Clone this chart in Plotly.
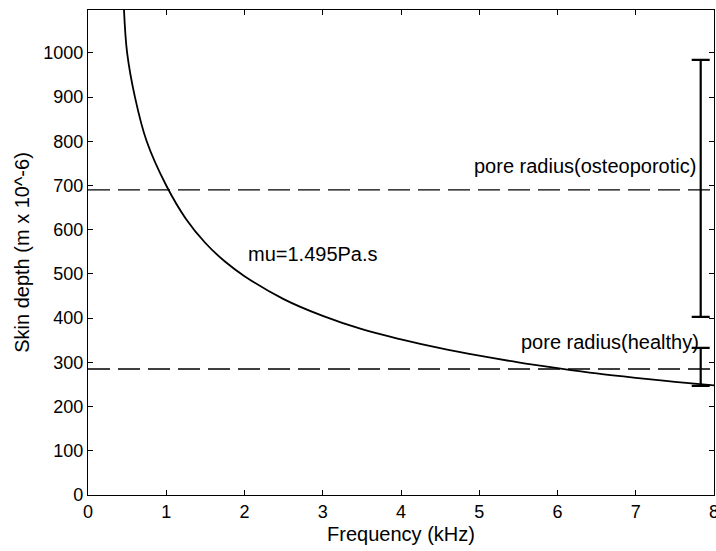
import plotly.graph_objects as go

# skin depth curve
freq = [0.46, 0.5, 0.6, 0.75, 1.0, 1.25, 1.5, 1.75, 2.0, 2.5, 3.0, 3.5, 4.0,
        4.5, 5.0, 5.5, 6.0, 6.5, 7.0, 7.5, 8.0]
depth = [1097, 1000, 900, 800, 700, 625, 570, 528, 495, 443, 405, 375, 352,
         332, 315, 300, 287, 275, 265, 256, 248]

pore_osteo = 690
pore_healthy = 285

bar_x = [7.83, 7.83]
bar_low = [403, 247]
bar_high = [984, 333]

bar_mid = [(a + b) / 2 for a, b in zip(bar_low, bar_high)]
bar_up = [h - m for h, m in zip(bar_high, bar_mid)]
bar_dn = [m - l for m, l in zip(bar_mid, bar_low)]

font = 'Liberation Sans, Arial, sans-serif'

curve = go.Scatter(x=freq, y=depth, mode='lines',
                   line=dict(color='black', width=1.8, shape='spline'))

osteo = go.Scatter(x=[0, 8], y=[pore_osteo, pore_osteo], mode='lines',
                   line=dict(color='black', width=1.3, dash='22px,8px'))
healthy = go.Scatter(x=[0, 8], y=[pore_healthy, pore_healthy], mode='lines',
                     line=dict(color='black', width=1.3, dash='22px,8px'))

bars = go.Scatter(x=bar_x, y=bar_mid, mode='markers',
                  marker=dict(size=1, color='black'),
                  error_y=dict(type='data', symmetric=False, array=bar_up,
                               arrayminus=bar_dn, width=9, thickness=2.2,
                               color='black'))

axis = dict(showline=True, linecolor='black', linewidth=1.2, mirror='ticks',
            ticks='inside', ticklen=5, tickcolor='black', showgrid=False,
            zeroline=False, automargin=False, ticklabeloverflow='allow',
            tickfont=dict(size=18, color='black'))

layout = go.Layout(
    width=716, height=551,
    margin=dict(l=88, r=2, t=10, b=56),
    paper_bgcolor='white', plot_bgcolor='white',
    font=dict(family=font, color='black'),
    showlegend=False,
    xaxis=dict(axis, range=[0, 8], dtick=1,
               title=dict(text='Frequency (kHz)', font=dict(size=20), standoff=6)),
    yaxis=dict(axis, range=[0, 1097], dtick=100,
               title=dict(text='Skin depth (m x 10^-6)', font=dict(size=20), standoff=8)),
    annotations=[
        dict(x=2.02, y=545, text='mu=1.495Pa.s', showarrow=False,
             xanchor='left', font=dict(size=20)),
        dict(x=7.79, y=744, text='pore radius(osteoporotic)', showarrow=False,
             xanchor='right', font=dict(size=20)),
        dict(x=7.84, y=346, text='pore radius(healthy)', showarrow=False,
             xanchor='right', font=dict(size=20)),
    ]
)

fig = go.Figure(data=[curve, osteo, healthy, bars], layout=layout)
fig.write_html('out.html', config={'displayModeBar': False},
               post_script="document.body.style.margin='0';")
